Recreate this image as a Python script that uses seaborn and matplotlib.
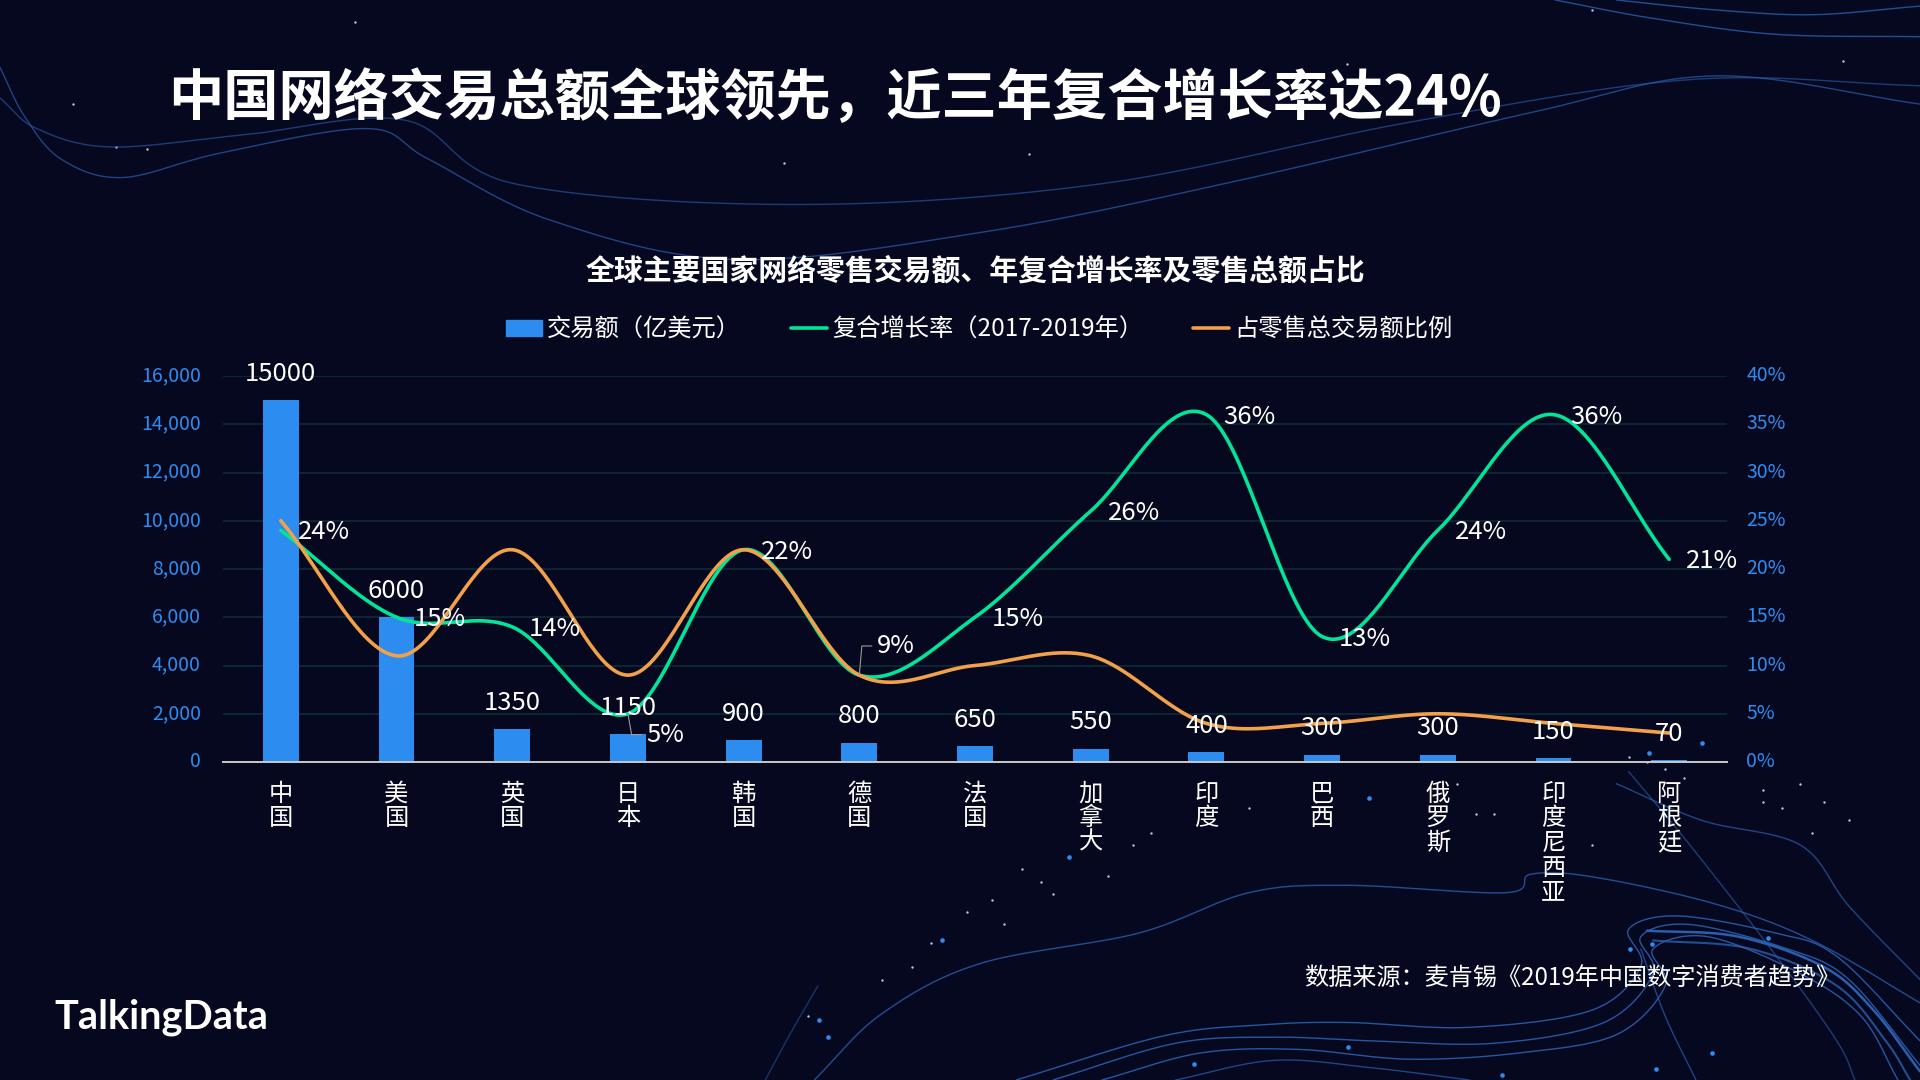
import numpy as np
import pandas as pd
import matplotlib
matplotlib.use('Agg')
import matplotlib.pyplot as plt
from matplotlib.lines import Line2D
from matplotlib.patches import Patch
from matplotlib.transforms import ScaledTranslation
import seaborn as sns

# Chart data
countries = ['中国', '美国', '英国', '日本', '韩国', '德国', '法国', '加拿大', '印度', '巴西', '俄罗斯', '印度尼西亚', '阿根廷']
amount = [15000, 6000, 1350, 1150, 900, 800, 650, 550, 400, 300, 300, 150, 70]
growth = [24, 15, 14, 5, 22, 9, 15, 26, 36, 13, 24, 36, 21]
retail_share = [25, 11, 22, 9, 22, 9, 10, 11, 4, 4, 5, 4, 3]

BG = '#060820'
BLUE = '#2D8CF0'
GREEN = '#00E599'
ORANGE = '#F2A049'
GRID = '#0C2A36'
DECO = '#2A5FB0'

sns.set_theme(style='dark')
plt.rcParams['font.family'] = ['Noto Sans CJK SC', 'DejaVu Sans']
plt.rcParams['axes.unicode_minus'] = False


def smooth_curve(values, steps=40):
    """Catmull-Rom through the points, same look as a smoothed office chart line"""
    y = np.asarray(values, dtype=float)
    m = np.gradient(y)
    xs, ys = [], []
    for i in range(len(y) - 1):
        t = np.linspace(0, 1, steps, endpoint=False)
        h00 = 2 * t**3 - 3 * t**2 + 1
        h10 = t**3 - 2 * t**2 + t
        h01 = -2 * t**3 + 3 * t**2
        h11 = t**3 - t**2
        xs.append(i + t)
        ys.append(h00 * y[i] + h10 * m[i] + h01 * y[i + 1] + h11 * m[i + 1])
    xs.append([len(y) - 1])
    ys.append([y[-1]])
    return np.concatenate(xs), np.concatenate(ys)


def deco_curve(points, steps=30):
    """Free curve for the background, parametric"""
    p = np.asarray(points, dtype=float)
    _, px = smooth_curve(p[:, 0], steps)
    _, py = smooth_curve(p[:, 1], steps)
    return px, py


fig = plt.figure(figsize=(19.2, 10.8), dpi=100, facecolor=BG)

# Background decoration, drawn in pixels of the 1568 wide preview
bg = fig.add_axes([0, 0, 1, 1], zorder=0)
bg.set_xlim(0, 1568)
bg.set_ylim(882, 0)
bg.axis('off')
bg.set_facecolor(BG)
deco_lines = [
    ([(0, 55), (20, 95), (50, 130), (100, 145), (180, 125), (300, 105), (350, 130), (450, 180), (600, 212), (800, 190), (1000, 150), (1250, 92), (1400, 62), (1568, 85)], 0.7, 1.0),
    ([(0, 80), (30, 105), (90, 120), (200, 110), (330, 98), (420, 150), (650, 167), (900, 150), (1150, 100), (1380, 65), (1568, 70)], 0.6, 1.0),
    ([(1270, 0), (1350, 15), (1450, 28), (1568, 30)], 0.8, 1.0),
    ([(1320, 0), (1400, 8), (1480, 12), (1568, 5)], 0.8, 1.0),
    ([(665, 882), (720, 828), (800, 787), (930, 762), (1020, 729), (1100, 723), (1230, 729), (1250, 714), (1300, 716), (1400, 738), (1480, 768), (1568, 819)], 0.8, 1.0),
    ([(830, 882), (950, 846), (1030, 837), (1100, 835), (1200, 839), (1300, 825), (1340, 789), (1330, 759), (1370, 748), (1450, 762), (1500, 781), (1568, 850)], 0.9, 1.0),
    ([(860, 882), (960, 852), (1040, 847), (1120, 850), (1220, 852), (1310, 835), (1350, 795), (1340, 765), (1380, 755), (1460, 775), (1510, 800), (1568, 870)], 0.9, 1.0),
    ([(900, 882), (980, 860), (1060, 857), (1150, 865), (1240, 860), (1320, 845), (1360, 805), (1350, 775), (1395, 765), (1470, 795), (1520, 830), (1550, 882)], 0.9, 1.0),
    ([(960, 882), (1040, 866), (1120, 872), (1200, 882)], 0.7, 1.0),
    ([(1320, 640), (1390, 670), (1470, 690), (1510, 740), (1568, 800)], 0.7, 1.0),
    ([(1330, 630), (1380, 690), (1450, 780), (1500, 850), (1515, 882)], 0.6, 1.0),
    ([(1340, 775), (1360, 830), (1385, 882)], 0.7, 1.0),
    ([(625, 882), (645, 845), (668, 805)], 0.5, 1.0),
    ([(1345, 760), (1420, 765), (1490, 790), (1530, 825), (1568, 875)], 1.0, 1.8),
    ([(1350, 768), (1430, 775), (1500, 805), (1540, 850), (1560, 882)], 0.8, 1.5),
]
for pts, alpha, width in deco_lines:
    dx, dy = deco_curve(pts)
    bg.plot(dx, dy, color=DECO, lw=width, alpha=alpha)
# particles
dots_x = [873, 769, 669, 676, 975, 1101, 1227, 1118, 1349, 1444, 1347, 1390, 1398, 1352, 1331]
dots_y = [700, 768, 833, 847, 869, 855, 878, 652, 771, 766, 615, 607, 860, 873, 775]
bg.scatter(dots_x, dots_y, s=11, color=BLUE, linewidths=0)
stars_x = [95, 120, 290, 640, 840, 1100, 1300, 1505, 60, 1470, 1490, 1510, 760, 820, 850, 1205, 1300, 1440, 720, 745, 660, 905, 925,
           1330, 1345, 1360, 1375, 1440, 1455, 1480, 790, 810, 835, 860, 940, 1020, 1075, 1190, 1220]
stars_y = [120, 122, 18, 133, 126, 52, 8, 50, 85, 640, 655, 670, 770, 755, 720, 665, 690, 655, 800, 790, 830, 715, 690,
           618, 622, 628, 635, 645, 660, 680, 745, 735, 710, 730, 680, 660, 655, 640, 665]
bg.scatter(stars_x, stars_y, s=3, color='#B8C8E8', linewidths=0)

# Main chart
ax = fig.add_axes([223 / 1920, 1 - 762 / 1080, (1727 - 223) / 1920, (762 - 376) / 1080], zorder=1)
ax.patch.set_alpha(0)
df = pd.DataFrame({'country': countries, 'amount': amount})
sns.barplot(data=df, x='country', y='amount', color=BLUE, saturation=1, width=0.31, linewidth=0, ax=ax)
ax.set_xlim(-0.5, len(countries) - 0.5)
ax.set_ylim(0, 16000)
ax.set_yticks(np.arange(0, 16001, 2000))
ax.set_yticklabels([f'{v:,}' for v in np.arange(0, 16001, 2000)])
ax.set_xlabel('')
ax.set_ylabel('')
ax.grid(axis='y', color=GRID, lw=1.3)
ax.set_axisbelow(True)
ax.set_xticks(range(len(countries)))
ax.set_xticklabels(['\n'.join(c) for c in countries], color='white', fontsize=17.5, linespacing=0.93)
ax.tick_params(axis='x', length=0, pad=13.5)
ax.tick_params(axis='y', length=0, pad=16, labelsize=14, labelcolor=BLUE)
for side in ['top', 'left', 'right']:
    ax.spines[side].set_visible(False)
ax.spines['bottom'].set_color('#C9C9C9')
ax.spines['bottom'].set_linewidth(1.4)

ax2 = ax.twinx()
ax2.patch.set_alpha(0)
gx, gy = smooth_curve(growth)
ox, oy = smooth_curve(retail_share)
sns.lineplot(x=gx, y=gy, color=GREEN, lw=2.6, sort=False, errorbar=None, ax=ax2)
sns.lineplot(x=ox, y=oy, color=ORANGE, lw=2.6, sort=False, errorbar=None, ax=ax2)
ax2.set_ylim(0, 40)
ax2.set_yticks(np.arange(0, 41, 5))
ax2.set_yticklabels([f'{v}%' for v in np.arange(0, 41, 5)])
ax2.set_ylabel('')
ax2.grid(False)
ax2.tick_params(axis='y', length=0, pad=14, labelsize=14, labelcolor=BLUE)
for side in ['top', 'left', 'right', 'bottom']:
    ax2.spines[side].set_visible(False)

# tick labels sit a little high in the original
nudge = ScaledTranslation(0, 2 / 72, fig.dpi_scale_trans)
for label in ax.get_yticklabels() + ax2.get_yticklabels():
    label.set_transform(label.get_transform() + nudge)

# Data labels for the bars, put on the upper axes so they sit over the lines
for i, v in enumerate(amount):
    ax2.annotate(str(v), xy=(i, v), xycoords=ax.transData, xytext=(0, 19),
                 textcoords='offset points', ha='center', va='center',
                 color='white', fontsize=18.5)

# Growth labels sit to the right of the point, two have leader lines
for i, v in enumerate(growth):
    if i == 3:
        ax2.annotate(f'{v}%', xy=(i, v), xytext=(27, -15), textcoords='offset points',
                     ha='center', va='center', color='white', fontsize=18.5,
                     arrowprops=dict(arrowstyle='-', color='#9A9A9A', lw=0.8, shrinkA=1, shrinkB=0,
                                     connectionstyle='angle,angleA=0,angleB=100,rad=0'))
    elif i == 5:
        ax2.annotate(f'{v}%', xy=(i, v), xytext=(26, 21), textcoords='offset points',
                     ha='center', va='center', color='white', fontsize=18.5,
                     arrowprops=dict(arrowstyle='-', color='#9A9A9A', lw=0.8, shrinkA=1, shrinkB=0,
                                     connectionstyle='angle,angleA=0,angleB=85,rad=0'))
    else:
        ax2.annotate(f'{v}%', xy=(i, v), xytext=(31, -1.5), textcoords='offset points',
                     ha='center', va='center', color='white', fontsize=18.5)

# Titles and notes
fig.text(168 / 1920, 1 - 99 / 1080, '中国网络交易总额全球领先，近三年复合增长率达24%', color='white',
         fontsize=39.75, fontweight='bold', ha='left', va='center')
fig.text(975 / 1920, 1 - 271 / 1080, '全球主要国家网络零售交易额、年复合增长率及零售总额占比', color='white',
         fontsize=20.8, fontweight='bold', ha='center', va='center')
fig.text(1840 / 1920, 1 - 978.5 / 1080, '数据来源：麦肯锡《2019年中国数字消费者趋势》', color='white',
         fontsize=17.4, ha='right', va='center')
fig.text(54 / 1920, 1 - 1017 / 1080, 'TalkingData', color='white', fontsize=28.6, fontweight='bold',
         family=['Lato', 'DejaVu Sans'], ha='left', va='center')

handles = [Patch(color=BLUE), Line2D([0], [0], color=GREEN, lw=2.6), Line2D([0], [0], color=ORANGE, lw=2.6)]
labels = ['交易额（亿美元）', '复合增长率（2017-2019年）', '占零售总交易额比例']
leg = fig.legend(handles, labels, loc='center', bbox_to_anchor=(979 / 1920, 1 - 329.5 / 1080), ncol=3,
                 frameon=False, fontsize=17.5, handlelength=1.5, handleheight=0.6, handletextpad=0.2,
                 columnspacing=2.05, labelcolor='white')

fig.savefig('out.png', dpi=100, facecolor=BG)
plt.close(fig)
